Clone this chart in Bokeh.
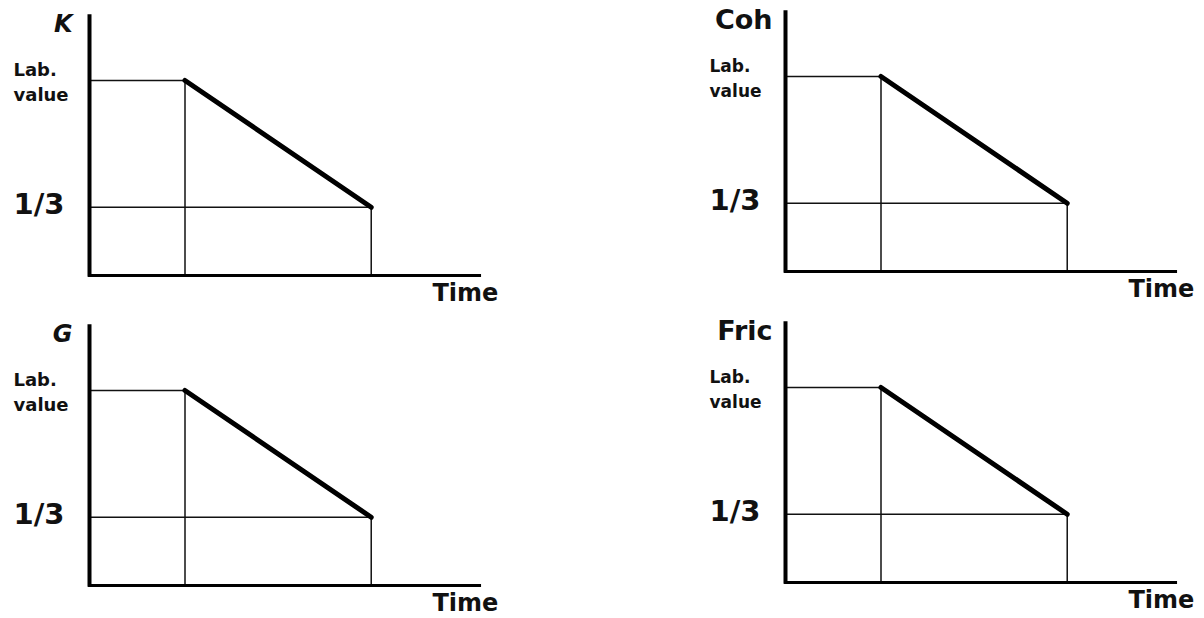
from bokeh.plotting import figure
from bokeh.layouts import column, row
from bokeh.models import Range1d, ColumnDataSource
from bokeh.core.properties import value
from bokeh.embed import file_html
from bokeh.resources import INLINE

# ---- data ----
panel_titles = ["K", "Coh", "G", "Fric"]
title_italic = [True, False, True, False]
lab_value = 1.0          # laboratory value (normalised)
reduced_value = 0.35     # level drawn for "1/3"
t_start = 1.0            # time when reduction begins
t_end = 2.95             # time when reduction ends
y_tick_labels = ["Lab.", "value", "1/3"]
x_label = "Time"
x_axis_end = 4.1
y_axis_top = 1.34

# ---- layout (pixels) ----
W, H = 602, 309
XS = 95.5   # px per time unit
YS = 195.0  # px per value unit
origins = [(89, 275), (183, 271), (89, 276), (183, 273)]
title_offsets = [-17, -13, -17, -13]
lab_font = ["18px", "17px", "18px", "17px"]

FONT = value("DejaVu Sans")


def make_panel(title, italic, origin, toff, lfont):
    ox, oy = origin
    p = figure(width=W, height=H, output_backend="svg", toolbar_location=None,
               x_range=Range1d(-ox / XS, (W - ox) / XS),
               y_range=Range1d(-(H - oy) / YS, oy / YS),
               min_border=0, min_border_left=0, min_border_right=0,
               min_border_top=0, min_border_bottom=0)
    p.axis.visible = False
    p.grid.visible = False
    p.outline_line_color = None
    p.background_fill_color = "white"
    p.border_fill_color = "white"

    # thin guide lines
    thin = ColumnDataSource(dict(
        x0=[0, 0, t_start, t_end],
        y0=[lab_value, reduced_value, 0, 0],
        x1=[t_start, t_end, t_start, t_end],
        y1=[lab_value, reduced_value, lab_value, reduced_value],
    ))
    p.segment("x0", "y0", "x1", "y1", source=thin, line_color="#111111", line_width=1.5)

    # axes lines
    p.segment(x0=[0], y0=[-0.006], x1=[0], y1=[y_axis_top], line_color="black", line_width=4)
    p.segment(x0=[-0.015], y0=[0], x1=[x_axis_end], y1=[0], line_color="black", line_width=3)

    # reduction line
    p.line(x=[t_start, t_end], y=[lab_value, reduced_value], line_color="black",
           line_width=5, line_cap="round")

    dx = 1.0 / XS
    dy = 1.0 / YS
    # y labels
    p.text(x=[-76 * dx], y=[lab_value + 11 * dy], text=[y_tick_labels[0]],
           text_font=FONT, text_font_style="bold", text_font_size=lfont,
           text_align="left", text_baseline="middle", text_color="#111111")
    p.text(x=[-76 * dx], y=[lab_value - 14 * dy], text=[y_tick_labels[1]],
           text_font=FONT, text_font_style="bold", text_font_size=lfont,
           text_align="left", text_baseline="middle", text_color="#111111")
    p.text(x=[-76 * dx], y=[reduced_value + 3 * dy], text=[y_tick_labels[2]],
           text_font=FONT, text_font_style="bold", text_font_size="29px",
           text_align="left", text_baseline="middle", text_color="#111111")
    # title
    p.text(x=[toff * dx], y=[1.29], text=[title],
           text_font=FONT, text_font_style="bold italic" if italic else "bold",
           text_font_size="24px" if italic else "27px",
           text_align="right", text_baseline="middle", text_color="#111111")
    # x label
    p.text(x=[343 * dx], y=[-17.5 * dy], text=[x_label],
           text_font=FONT, text_font_style="bold", text_font_size="24px",
           text_align="left", text_baseline="middle", text_color="#111111")
    return p


panels = [make_panel(t, it, o, to, lf) for t, it, o, to, lf in
          zip(panel_titles, title_italic, origins, title_offsets, lab_font)]
layout = column(row(panels[0], panels[1], spacing=0),
                row(panels[2], panels[3], spacing=0), spacing=0)

open("out.html", "w").write(file_html(layout, INLINE))
